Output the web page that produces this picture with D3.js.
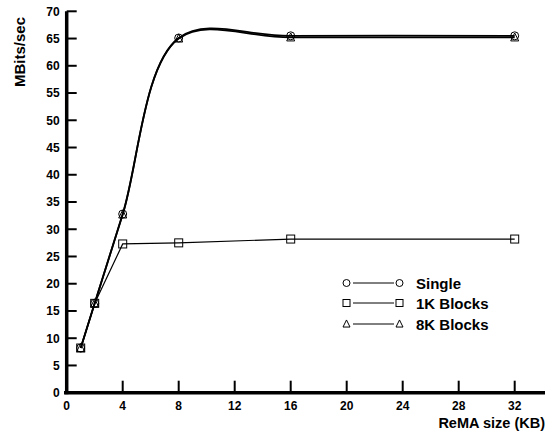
<!DOCTYPE html>
<html><head><meta charset="utf-8">
<script src="https://cdn.jsdelivr.net/npm/d3@7"></script>
<style>body{margin:0;background:#fff}svg{font-family:"Liberation Sans",Arial,sans-serif;font-weight:bold}</style>
</head><body><svg id="c" width="550" height="436"></svg>
<script>
const sizes = [1, 2, 4, 8, 16, 32];
const single = [8.2, 16.4, 32.8, 65.1, 65.5, 65.5];
const blocks1K = [8.2, 16.4, 27.3, 27.5, 28.2, 28.2];
const blocks8K = [8.2, 16.4, 32.7, 65.0, 65.2, 65.2];
const xTicks = [0, 4, 8, 12, 16, 20, 24, 28, 32];
const yTicks = [0,5,10,15,20,25,30,35,40,45,50,55,60,65,70];
const seriesNames = ["Single", "1K Blocks", "8K Blocks"];

const svg = d3.select("#c");
const x = d3.scaleLinear().domain([0, 32]).range([66.7, 514.7]);
const y = d3.scaleLinear().domain([0, 70]).range([392.7, 11.3]);

// axes
const gx = svg.append("g").attr("transform", `translate(0,${y(0)})`);
gx.append("line").attr("x1", 64).attr("x2", 545).attr("stroke", "#000").attr("stroke-width", 3.5);
gx.selectAll("line.t").data(xTicks).join("line").attr("class","t")
  .attr("x1", d => x(d)).attr("x2", d => x(d)).attr("y1", 0).attr("y2", -12)
  .attr("stroke", "#000").attr("stroke-width", 2);
gx.selectAll("text").data(xTicks).join("text")
  .attr("x", d => x(d)).attr("y", 17).attr("text-anchor", "middle")
  .attr("font-size", 12).text(d => d);

const gy = svg.append("g").attr("transform", `translate(${x(0)},0)`);
gy.append("line").attr("y1", y(70)).attr("y2", y(0) + 1.5).attr("stroke", "#000").attr("stroke-width", 3.5);
gy.selectAll("line.t").data(yTicks).join("line").attr("class","t")
  .attr("x1", 0).attr("x2", 10).attr("y1", d => y(d)).attr("y2", d => y(d))
  .attr("stroke", "#000").attr("stroke-width", 2);
gy.selectAll("text").data(yTicks).join("text")
  .attr("x", -7).attr("y", d => y(d) + 4.3).attr("text-anchor", "end")
  .attr("font-size", 12).text(d => d);

svg.append("text").attr("transform", "translate(25,52) rotate(-90)")
  .attr("text-anchor", "middle").attr("font-size", 15).text("MBits/sec");
svg.append("text").attr("x", 545).attr("y", 428).attr("text-anchor", "end")
  .attr("font-size", 14.5).text("ReMA size (KB)");

// lines
const smooth = d3.line().x((d,i) => x(sizes[i])).y(d => y(d)).curve(d3.curveCatmullRom.alpha(0.5));
const straight = d3.line().x((d,i) => x(sizes[i])).y(d => y(d));
svg.append("path").attr("d", straight(blocks1K)).attr("fill","none").attr("stroke","#000").attr("stroke-width",1.2);
svg.append("path").attr("d", smooth(single)).attr("fill","none").attr("stroke","#000").attr("stroke-width",1.8);
svg.append("path").attr("d", smooth(blocks8K)).attr("fill","none").attr("stroke","#000").attr("stroke-width",1.8);

// markers
function circle(g, cx, cy, r) { g.append("circle").attr("cx", cx).attr("cy", cy).attr("r", r).attr("fill","none").attr("stroke","#000").attr("stroke-width",1); }
function square(g, cx, cy, s) { g.append("rect").attr("x", cx - s/2).attr("y", cy - s/2).attr("width", s).attr("height", s).attr("fill","none").attr("stroke","#000").attr("stroke-width",1); }
function tri(g, cx, cy, s) { const h = s*0.87; g.append("path").attr("d", `M${cx},${cy-h/2-1}L${cx+s/2},${cy+h/2}L${cx-s/2},${cy+h/2}Z`).attr("fill","none").attr("stroke","#000").attr("stroke-width",1); }
const gm = svg.append("g");
sizes.forEach((s,i) => {
  circle(gm, x(s), y(single[i]), 4);
  square(gm, x(s), y(blocks1K[i]), 8);
  tri(gm, x(s), y(blocks8K[i]), 8);
});

// legend
const leg = svg.append("g");
const ly = [283, 303, 324];
const mk = [circle, square, tri];
seriesNames.forEach((n,i) => {
  leg.append("line").attr("x1", 353).attr("x2", 394).attr("y1", ly[i]).attr("y2", ly[i]).attr("stroke","#000").attr("stroke-width",1);
  mk[i](leg, 346.5, ly[i], i === 0 ? 3.5 : 7);
  mk[i](leg, 399.5, ly[i], i === 0 ? 3.5 : 7);
  leg.append("text").attr("x", 416).attr("y", ly[i] + 5.5).attr("font-size", 15).text(n);
});
</script></body></html>
